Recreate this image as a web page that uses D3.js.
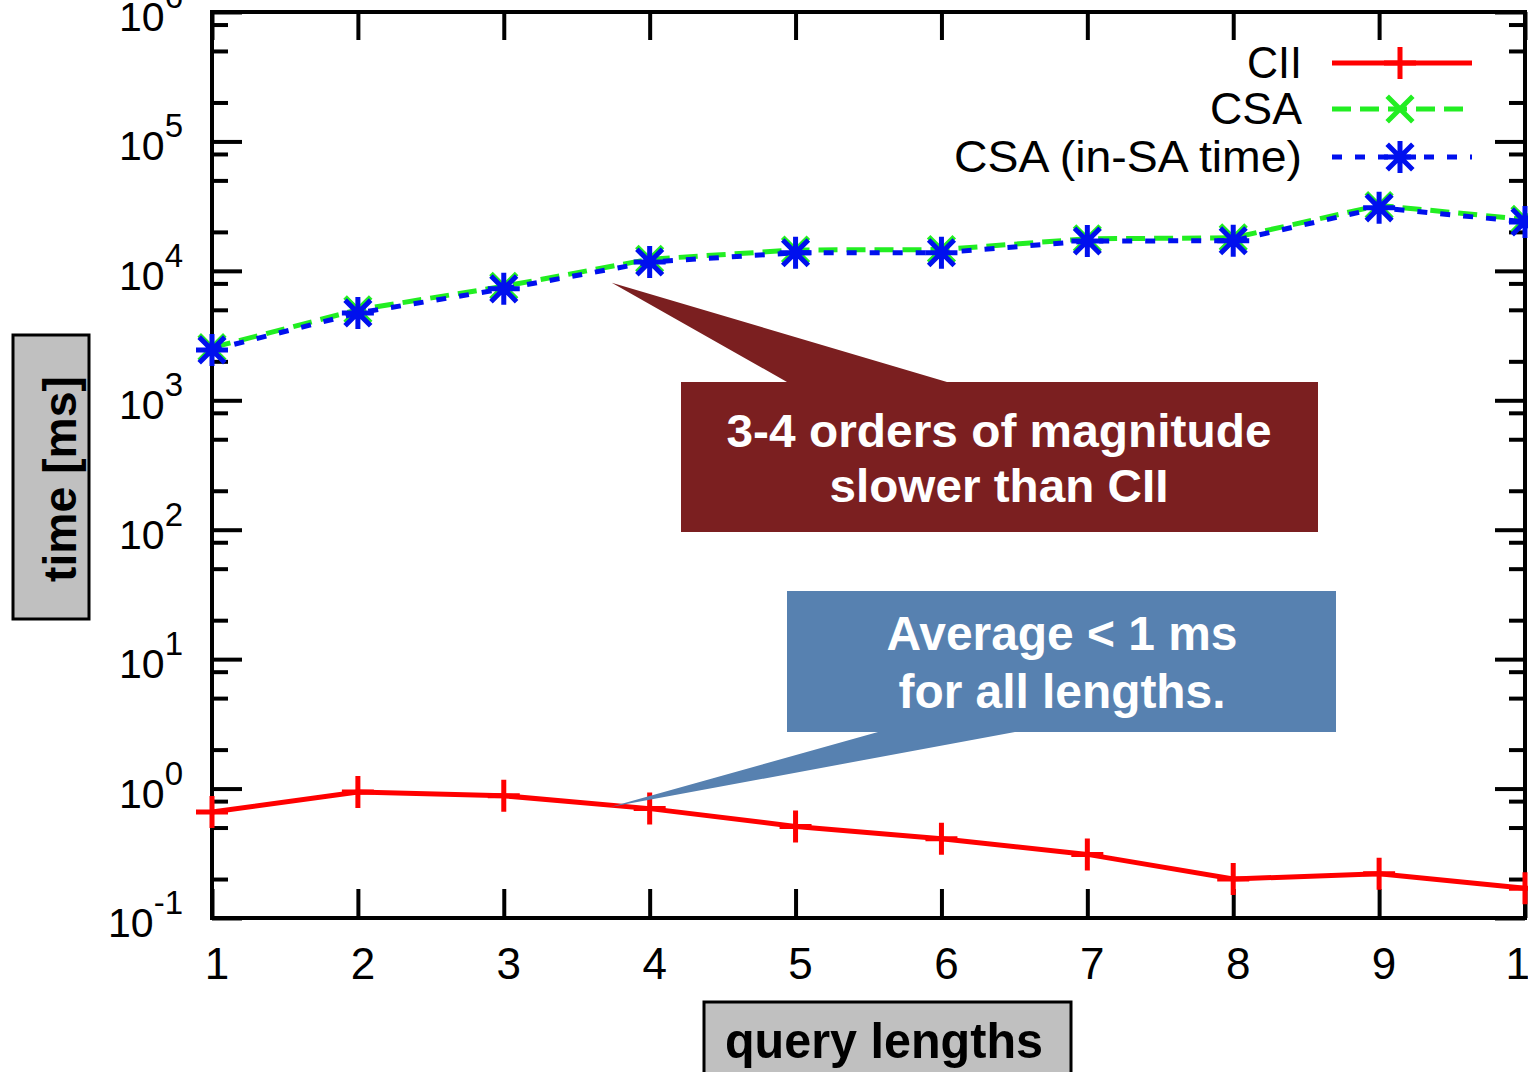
<!DOCTYPE html>
<html>
<head>
<meta charset="utf-8">
<script src="https://cdn.jsdelivr.net/npm/d3@7"></script>
<style>
  body { margin: 0; background: #ffffff; }
  svg { display: block; }
  text { font-family: "Liberation Sans", Arial, Helvetica, sans-serif; }
</style>
</head>
<body>
<div id="main_output"></div>
<script>
// query lengths on the x axis
var lengths = [1, 2, 3, 4, 5, 6, 7, 8, 9, 10];

// times in ms
var cii_times = [0.66, 0.94, 0.88, 0.70, 0.51, 0.41, 0.31, 0.20, 0.22, 0.17];
var csa_times = [2550, 5000, 7600, 12300, 14500, 14600, 17700, 18000, 32000, 25000];
var csa_insa_times = [2450, 4730, 7260, 11700, 13800, 13800, 17000, 17100, 30700, 23900];

var series_names = ["CII", "CSA", "CSA (in-SA time)"];

var y_major_exps = [-1, 0, 1, 2, 3, 4, 5, 6];
var y_minor_mults = [2, 5, 8];

// callout texts and where the pointers aim (data coords)
var slow_lines = ["3-4 orders of magnitude", "slower than CII"];
var slow_tip = [3.74, 8100];
var fast_lines = ["Average < 1 ms", "for all lengths."];
var fast_tip = [3.73, 0.72];

const red_colour = "#ff0000";
const green_colour = "#22ee22";
const blue_colour = "#0010ee";

var W = 1528, H = 1072;
var plot = {left: 212, right: 1525, top: 12, bottom: 918};

var svg = d3.select("#main_output").append("svg")
  .attr("width", W)
  .attr("height", H)
  .style("background", "#ffffff");

var x = d3.scaleLinear().domain([1, 10]).range([plot.left, plot.right]);
var y = d3.scaleLog().domain([0.1, 1e6]).range([plot.bottom, plot.top]);

var majors = y_major_exps.map(function(e) { return Math.pow(10, e); });
var minors = [];
y_major_exps.slice(0, -1).forEach(function(e) {
  y_minor_mults.forEach(function(m) { minors.push(m * Math.pow(10, e)); });
});

// ticks (gnuplot style, pointing inwards, mirrored)
function tickStyle(g) {
  g.select(".domain").remove();
  g.selectAll(".tick line").attr("stroke", "#000").attr("stroke-width", 4);
  g.selectAll(".tick text").remove();
}

svg.append("g").attr("transform", "translate(" + plot.left + ",0)")
  .call(d3.axisLeft(y).tickValues(majors).tickSize(-30).tickFormat(""))
  .call(tickStyle);
svg.append("g").attr("transform", "translate(" + plot.left + ",0)")
  .call(d3.axisLeft(y).tickValues(minors).tickSize(-16).tickFormat(""))
  .call(tickStyle);
svg.append("g").attr("transform", "translate(" + plot.right + ",0)")
  .call(d3.axisRight(y).tickValues(majors).tickSize(-30).tickFormat(""))
  .call(tickStyle);
svg.append("g").attr("transform", "translate(" + plot.right + ",0)")
  .call(d3.axisRight(y).tickValues(minors).tickSize(-16).tickFormat(""))
  .call(tickStyle);
svg.append("g").attr("transform", "translate(0," + plot.bottom + ")")
  .call(d3.axisBottom(x).tickValues(lengths).tickSize(-29).tickFormat(""))
  .call(tickStyle);
svg.append("g").attr("transform", "translate(0," + plot.top + ")")
  .call(d3.axisTop(x).tickValues(lengths).tickSize(-28).tickFormat(""))
  .call(tickStyle);

// border
svg.append("rect")
  .attr("x", plot.left).attr("y", plot.top)
  .attr("width", plot.right - plot.left).attr("height", plot.bottom - plot.top)
  .attr("fill", "none").attr("stroke", "#000").attr("stroke-width", 4);

// y labels 10^k
y_major_exps.forEach(function(e) {
  var t = svg.append("text")
    .attr("x", 183)
    .attr("y", y(Math.pow(10, e)) + 19)
    .attr("text-anchor", "end")
    .attr("font-size", 41)
    .attr("fill", "#000");
  t.append("tspan").text("10");
  t.append("tspan").attr("dy", -23).attr("font-size", 33).text(e);
});

// x labels
svg.selectAll(".xlab")
  .data(lengths)
  .enter()
  .append("text")
  .attr("class", "xlab")
  .attr("x", function(d) { return x(d) + 5; })
  .attr("y", 979)
  .attr("text-anchor", "middle")
  .attr("font-size", 44)
  .text(function(d) { return d; });

// axis titles in grey boxes
svg.append("rect")
  .attr("x", 13).attr("y", 335).attr("width", 76).attr("height", 284)
  .attr("fill", "#c0c0c0").attr("stroke", "#000").attr("stroke-width", 3);
svg.append("text")
  .attr("transform", "translate(76,479) rotate(-90)")
  .attr("text-anchor", "middle")
  .attr("font-size", 46)
  .attr("font-weight", "bold")
  .attr("textLength", 206)
  .attr("lengthAdjust", "spacingAndGlyphs")
  .text("time [ms]");

svg.append("rect")
  .attr("x", 704).attr("y", 1002).attr("width", 367).attr("height", 90)
  .attr("fill", "#c0c0c0").attr("stroke", "#000").attr("stroke-width", 3);
svg.append("text")
  .attr("x", 884).attr("y", 1058)
  .attr("text-anchor", "middle")
  .attr("font-size", 50)
  .attr("font-weight", "bold")
  .attr("textLength", 318)
  .attr("lengthAdjust", "spacingAndGlyphs")
  .text("query lengths");

// series
var line = d3.line()
  .x(function(d, i) { return x(lengths[i]); })
  .y(function(d) { return y(d); });

var series = [
  {name: series_names[0], values: cii_times, colour: red_colour, dash: null, width: 5, marker: "plus", len: 55},
  {name: series_names[1], values: csa_times, colour: green_colour, dash: "19,9", width: 5, marker: "cross", len: 92},
  {name: series_names[2], values: csa_insa_times, colour: blue_colour, dash: "10,13", width: 5, marker: "star", len: 348}
];

var ms = 16;
function markerPath(type, cx, cy) {
  var p = d3.path();
  if (type === "plus" || type === "star") {
    p.moveTo(cx - ms, cy); p.lineTo(cx + ms, cy);
    p.moveTo(cx, cy - ms); p.lineTo(cx, cy + ms);
  }
  if (type === "cross" || type === "star") {
    var d = ms * 0.8;
    p.moveTo(cx - d, cy - d); p.lineTo(cx + d, cy + d);
    p.moveTo(cx - d, cy + d); p.lineTo(cx + d, cy - d);
  }
  return p.toString();
}

series.forEach(function(s) {
  svg.append("path")
    .datum(s.values)
    .attr("fill", "none")
    .attr("stroke", s.colour)
    .attr("stroke-width", s.width)
    .attr("stroke-dasharray", s.dash)
    .attr("d", line);

  svg.selectAll(null)
    .data(s.values)
    .enter()
    .append("path")
    .attr("d", function(d, i) { return markerPath(s.marker, x(lengths[i]), y(d)); })
    .attr("stroke", s.colour)
    .attr("stroke-width", 5)
    .attr("fill", "none");
});

// legend
var legend_y = [63, 109, 157];
series.forEach(function(s, i) {
  svg.append("text")
    .attr("x", 1302).attr("y", legend_y[i] + 15)
    .attr("text-anchor", "end")
    .attr("font-size", 45)
    .attr("textLength", s.len)
    .attr("lengthAdjust", "spacingAndGlyphs")
    .text(s.name);
  svg.append("line")
    .attr("x1", 1332).attr("x2", 1472)
    .attr("y1", legend_y[i]).attr("y2", legend_y[i])
    .attr("stroke", s.colour)
    .attr("stroke-width", s.width)
    .attr("stroke-dasharray", s.dash);
  svg.append("path")
    .attr("d", markerPath(s.marker, 1400, legend_y[i]))
    .attr("stroke", s.colour)
    .attr("stroke-width", 5)
    .attr("fill", "none");
});

// callouts
function callout(box, base, tip, fill, lines, textInfo) {
  var p = d3.path();
  p.moveTo(box.x0, box.y0);
  if (base.top) {
    p.lineTo(base.a, box.y0); p.lineTo(x(tip[0]), y(tip[1])); p.lineTo(base.b, box.y0);
  }
  p.lineTo(box.x1, box.y0);
  p.lineTo(box.x1, box.y1);
  if (!base.top) {
    p.lineTo(base.b, box.y1); p.lineTo(x(tip[0]), y(tip[1])); p.lineTo(base.a, box.y1);
  }
  p.lineTo(box.x0, box.y1);
  p.closePath();
  svg.append("path").attr("d", p.toString()).attr("fill", fill);

  lines.forEach(function(l, i) {
    svg.append("text")
      .attr("x", textInfo.cx).attr("y", textInfo.base[i])
      .attr("text-anchor", "middle")
      .attr("font-size", textInfo.size)
      .attr("font-weight", "bold")
      .attr("fill", "#ffffff")
      .attr("textLength", textInfo.len[i])
      .attr("lengthAdjust", "spacingAndGlyphs")
      .text(l);
  });
}

callout({x0: 681, y0: 382, x1: 1318, y1: 532}, {top: true, a: 787, b: 947}, slow_tip, "#7b1f20",
  slow_lines, {cx: 999, base: [447, 502], size: 47, len: [545, 339]});

callout({x0: 787, y0: 591, x1: 1336, y1: 732}, {top: false, a: 878, b: 1015}, fast_tip, "#5781b0",
  fast_lines, {cx: 1062, base: [650, 708], size: 48, len: [351, 327]});
</script>
</body>
</html>
